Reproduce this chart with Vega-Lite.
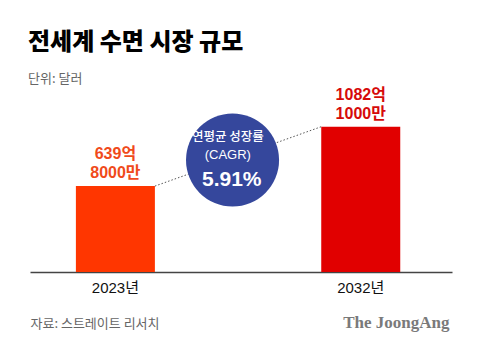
{
  "$schema": "https://vega.github.io/schema/vega-lite/v6.json",
  "width": 422,
  "height": 172,
  "autosize": {"type": "none"},
  "padding": {"left": 30, "right": 28, "top": 100, "bottom": 78},
  "background": "white",
  "config": {"view": {"stroke": null}, "font": "Liberation Sans, Noto Sans CJK KR"},
  "title": {
    "text": "전세계 수면 시장 규모",
    "subtitle": "단위: 달러",
    "anchor": "start",
    "frame": "group",
    "font": "Noto Sans CJK KR",
    "fontSize": 24,
    "fontWeight": 900,
    "color": "#000000",
    "subtitleFont": "Noto Sans CJK KR",
    "subtitleFontSize": 13,
    "subtitleColor": "#666666",
    "subtitlePadding": 18,
    "offset": 1,
    "dx": -2
  },
  "datasets": {
    "market": [
      {"year": "2023년", "value": 639.8, "label": "639억\n8000만"},
      {"year": "2032년", "value": 1082.1, "label": "1082억\n1000만"}
    ],
    "growth": [
      {"from": "2023년", "to": "2032년", "start": 639.8, "end": 1082.1}
    ],
    "cagr": [
      {"year": "CAGR", "name": "연평균 성장률", "code": "(CAGR)", "rate": "5.91%"}
    ]
  },
  "layer": [
    {
      "data": {"name": "market"},
      "mark": {"type": "bar"},
      "encoding": {
        "x": {
          "field": "year",
          "type": "nominal",
          "sort": null,
          "scale": {"domain": ["2023년", "CAGR", "2032년"], "paddingInner": 0.356, "paddingOuter": 0.398, "align": 0.47},
          "axis": {
            "bandPosition": 0.5,
            "labelExpr": "datum.value === 'CAGR' ? '' : datum.value",
            "labelAngle": 0,
            "labelAlign": "center",
            "labelFontSize": 15,
            "labelColor": "#111111",
            "labelPadding": 8,
            "ticks": false,
            "domainColor": "#444444",
            "domainWidth": 1.5,
            "title": "자료: 스트레이트 리서치",
            "titleFont": "Noto Sans CJK KR",
            "titleFontSize": 13,
            "titleFontWeight": "normal",
            "titleColor": "#666666",
            "titleAnchor": "start",
            "titleAlign": "left",
            "titleBaseline": "middle",
            "titleX": 0,
            "titleY": 51
          }
        },
        "y": {
          "field": "value",
          "type": "quantitative",
          "scale": {"domain": [0, 1281], "nice": false},
          "axis": {
            "orient": "right",
            "labels": false,
            "ticks": false,
            "domain": false,
            "grid": false,
            "title": "The JoongAng",
            "titleAngle": 0,
            "titleFont": "Liberation Serif",
            "titleFontWeight": "bold",
            "titleFontSize": 17,
            "titleColor": "#7a7a7a",
            "titleAlign": "right",
            "titleBaseline": "middle",
            "titleX": -3,
            "titleY": 222
          }
        },
        "color": {"field": "year", "type": "nominal", "scale": {"domain": ["2023년", "2032년"], "range": ["#FF3600", "#E10000"]}, "legend": null}
      }
    },
    {
      "data": {"name": "growth"},
      "mark": {"type": "rule", "color": "#555555", "strokeWidth": 1, "strokeDash": [1.5, 2]},
      "encoding": {
        "x": {"field": "from", "type": "nominal", "bandPosition": 1},
        "x2": {"field": "to", "bandPosition": 0},
        "y": {"field": "start", "type": "quantitative"},
        "y2": {"field": "end"}
      }
    },
    {
      "data": {"name": "market"},
      "mark": {"type": "text", "baseline": "bottom", "dy": -24, "fontSize": 16, "fontWeight": "bold", "lineBreak": "\n", "lineHeight": 19},
      "encoding": {
        "x": {"field": "year", "type": "nominal"},
        "y": {"field": "value", "type": "quantitative"},
        "text": {"field": "label"},
        "color": {"field": "year", "type": "nominal", "scale": {"domain": ["2023년", "2032년"], "range": ["#F04A1A", "#D60A0A"]}, "legend": null}
      }
    },
    {
      "data": {"name": "cagr"},
      "mark": {"type": "point", "shape": "circle", "filled": true, "opacity": 1, "size": 8660, "color": "#35479C"},
      "encoding": {
        "x": {"field": "year", "type": "nominal", "bandPosition": 0.43},
        "y": {"datum": 834, "type": "quantitative"}
      }
    },
    {
      "data": {"name": "cagr"},
      "mark": {"type": "text", "color": "white", "fontSize": 12.5, "font": "Noto Sans CJK KR", "fontWeight": 500, "baseline": "middle"},
      "encoding": {
        "x": {"field": "year", "type": "nominal", "bandPosition": 0.37},
        "y": {"datum": 1005, "type": "quantitative"},
        "text": {"field": "name"}
      }
    },
    {
      "data": {"name": "cagr"},
      "mark": {"type": "text", "color": "white", "fontSize": 13, "baseline": "middle"},
      "encoding": {
        "x": {"field": "year", "type": "nominal", "bandPosition": 0.37},
        "y": {"datum": 871, "type": "quantitative"},
        "text": {"field": "code"}
      }
    },
    {
      "data": {"name": "cagr"},
      "mark": {"type": "text", "color": "white", "fontSize": 21, "fontWeight": "bold", "baseline": "middle"},
      "encoding": {
        "x": {"field": "year", "type": "nominal", "bandPosition": 0.42},
        "y": {"datum": 685, "type": "quantitative"},
        "text": {"field": "rate"}
      }
    }
  ],
  "resolve": {"scale": {"color": "independent"}}
}
